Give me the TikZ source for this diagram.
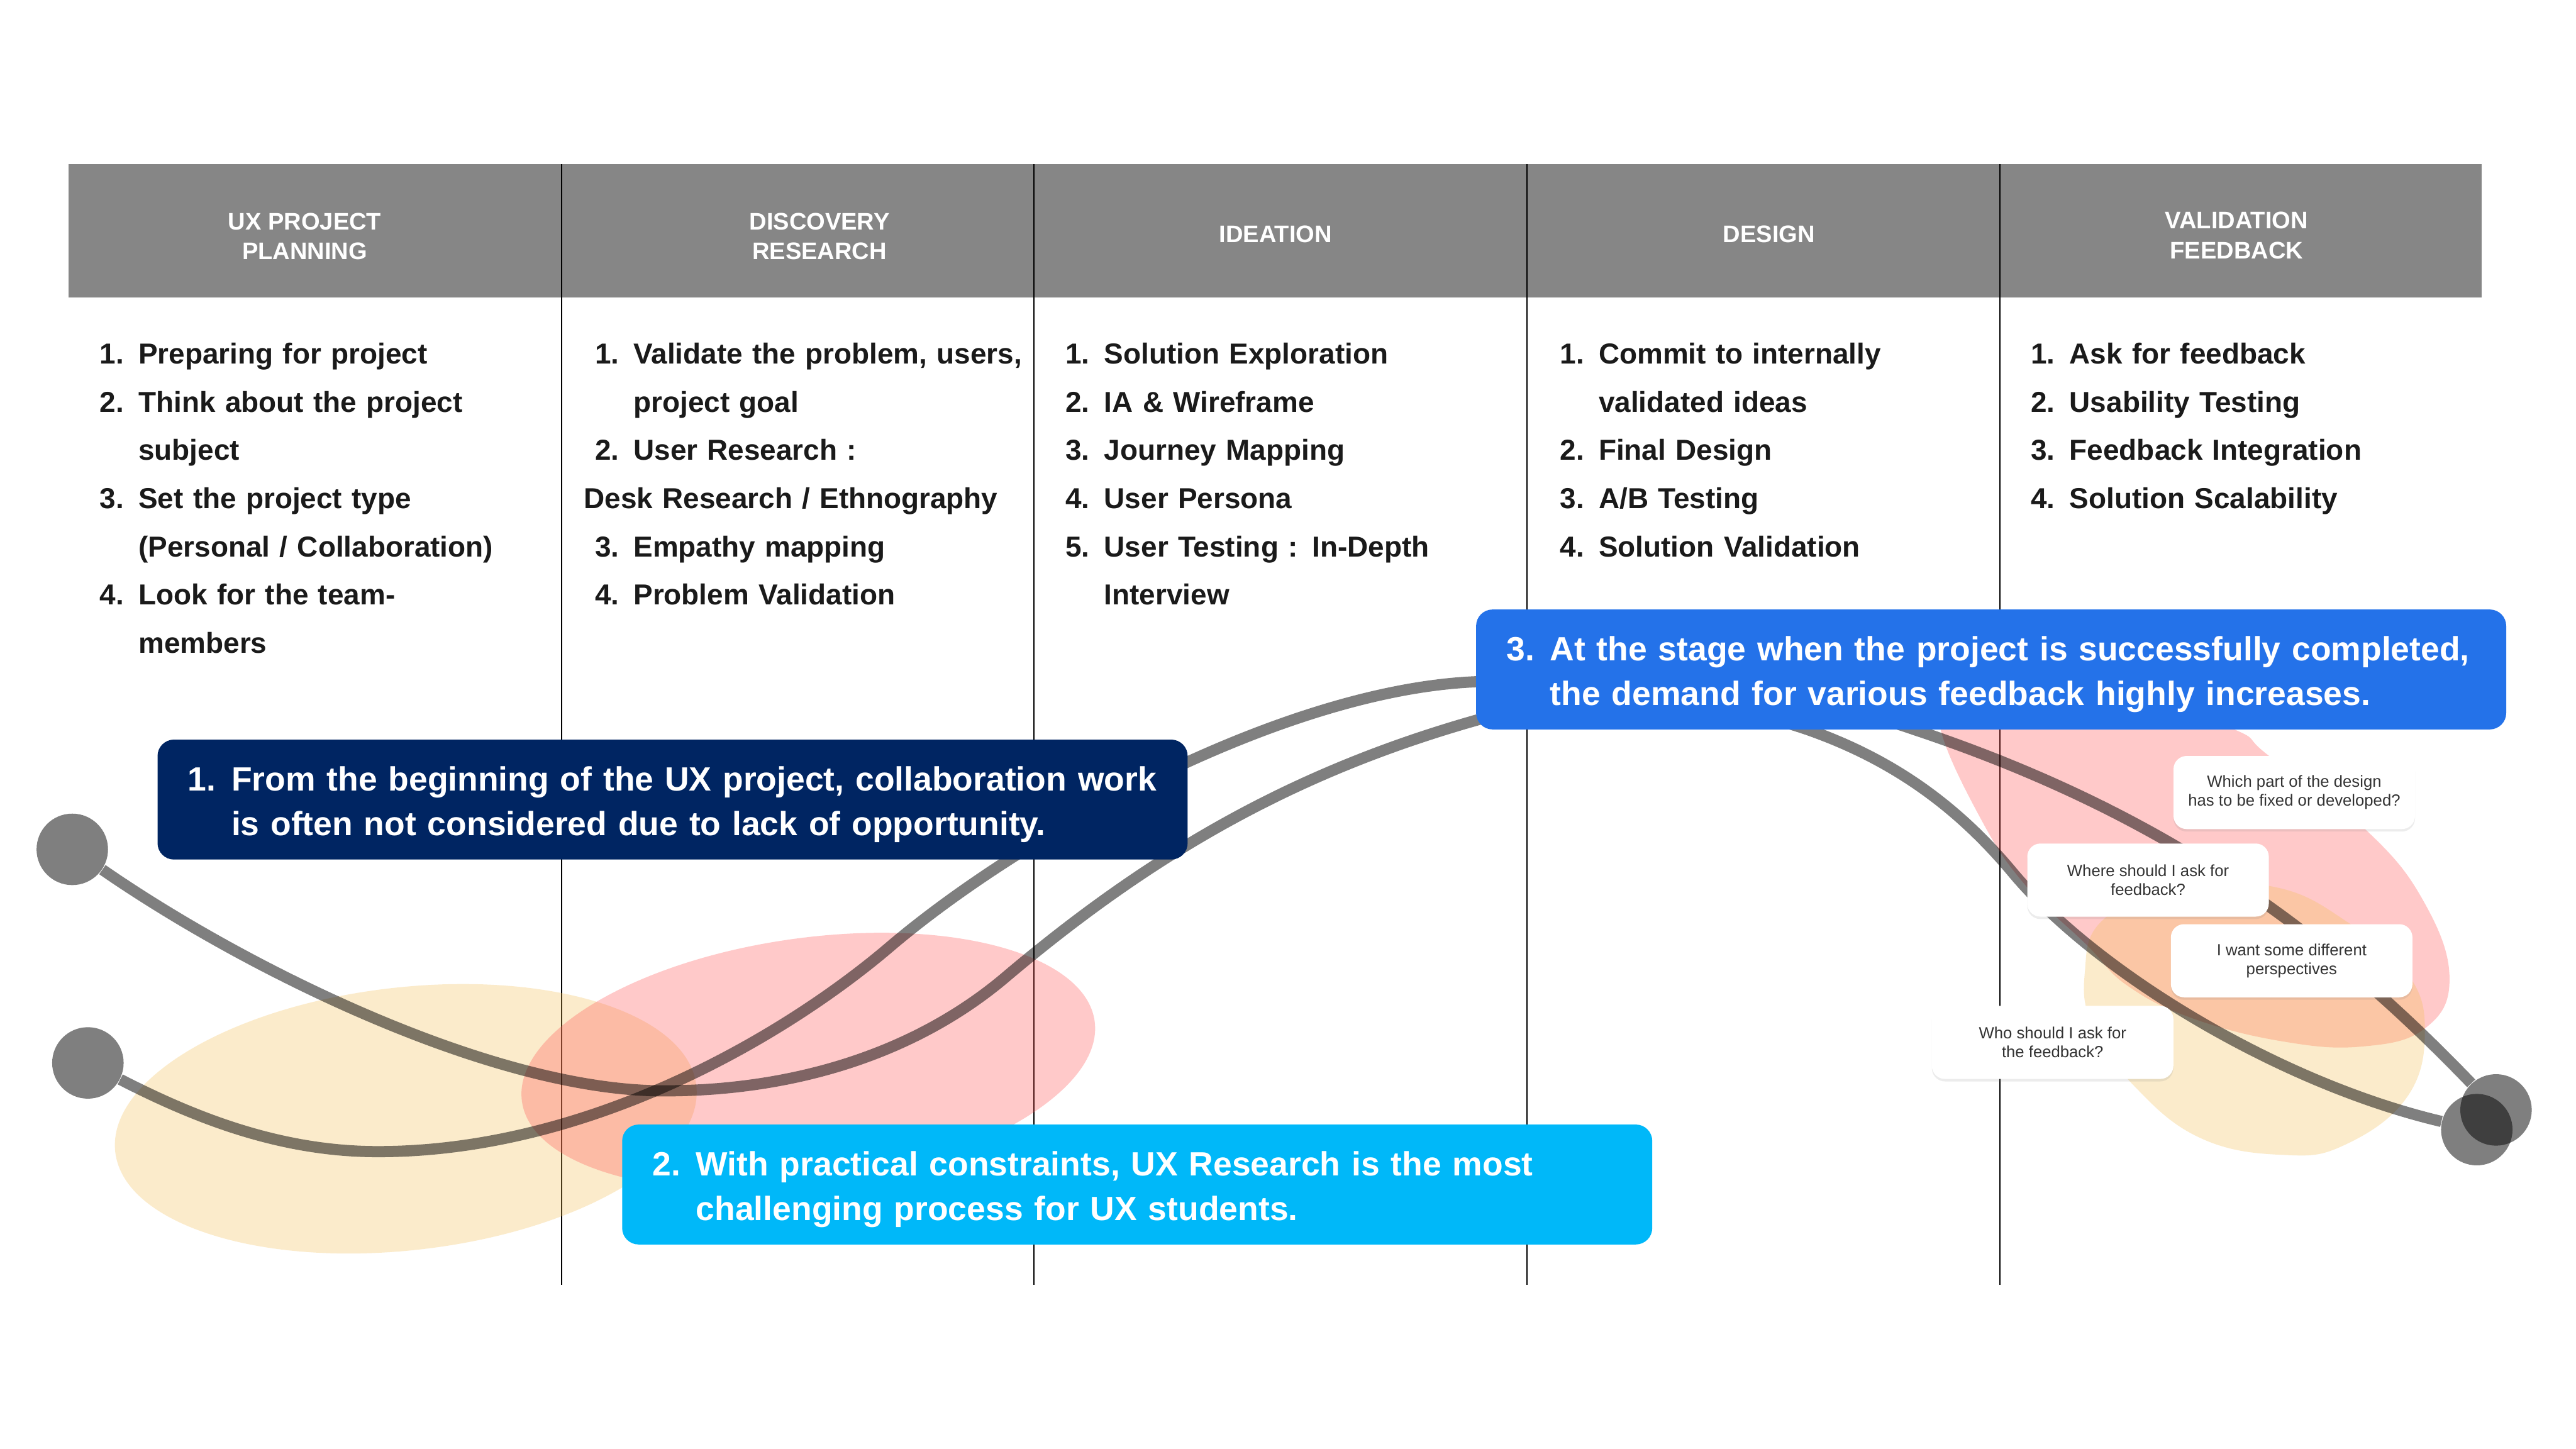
\documentclass[tikz,border=0pt]{standalone}
\usepackage{fontspec}
\setmainfont{Liberation Sans}
\usetikzlibrary{shadows}

\definecolor{headgray}{RGB}{134,134,134}
\definecolor{navy}{RGB}{0,37,98}
\definecolor{sky}{RGB}{0,184,249}
\definecolor{azure}{RGB}{36,114,233}
\definecolor{sand}{RGB}{245,192,85}
\definecolor{rose}{RGB}{255,78,78}
\definecolor{ink}{RGB}{26,26,26}

\newcommand{\itm}[1]{\makebox[4.7mm][l]{#1}}
\newcommand{\ind}{\hspace*{4.7mm}}
\newcommand{\firstln}[2]{\mbox{\rule{0pt}{4.2mm}\makebox[5.3mm][l]{#1}#2}}
\newcommand{\nextln}[1]{\mbox{\hspace*{5.3mm}#1}}

\begin{document}
\begin{tikzpicture}[x=0.2mm, y=-0.2mm,
  head/.style   ={font=\bfseries\fontsize{8.3}{10.4}\selectfont, text=white, align=center, inner sep=0pt},
  item/.style   ={font=\bfseries\fontsize{10}{16.7}\selectfont, text=ink, text width=60mm, align=left, inner sep=0pt, anchor=base west},
  divider/.style={draw=black, line width=0.5pt},
  ywash/.style  ={fill=sand, fill opacity=0.3},
  pwash/.style  ={fill=rose, fill opacity=0.3},
  route/.style  ={draw=black, draw opacity=0.5, line width=1.36mm},
  knob/.style   ={circle, fill=black, fill opacity=0.5, minimum size=8.7mm, inner sep=0pt},
  cbox/.style   ={rounded corners=2mm, text=white, font=\bfseries\fontsize{11.65}{15.4}\selectfont, text width=118mm, inner xsep=3.7mm, inner ysep=0pt, minimum height=14.6mm, align=left},
  qbox/.style   ={fill=white, rounded corners=1.6mm, minimum width=29.4mm, minimum height=8.9mm, inner sep=0pt, align=center, text=black!80, font=\fontsize{5.6}{6.6}\selectfont, drop shadow={shadow xshift=0mm, shadow yshift=-0.3mm, opacity=0.15}}]

  \useasboundingbox (0,0) rectangle (1568,882);
  \fill[white] (0,0) rectangle (1568,882);

  % ---------------- header band ----------------
  \fill[headgray] (41.7,100) rectangle (1510.5,181);

  % ---------------- column dividers ----------------
  \draw[divider] (341.8,100) -- (341.8,782);
  \draw[divider] (629.4,100) -- (629.4,782);
  \draw[divider] (929.5,100) -- (929.5,782);
  \draw[divider] (1217.3,100) -- (1217.3,782);

  % ---------------- stage titles ----------------
  \node[head] (hplan) at (185.5,143.9) {UX PROJECT\\PLANNING};
  \node[head] (hdisc) at (498.8,143.9) {DISCOVERY\\RESEARCH};
  \node[head] (hidea) at (776.4,142.6) {IDEATION};
  \node[head] (hdsgn) at (1076.8,142.6) {DESIGN};
  \node[head] (hvali) at (1361.4,143.4) {VALIDATION\\FEEDBACK};

  % ---------------- task lists ----------------
  \node[item] (lplan) at (60.5,221.5) {\itm{1.}Preparing for project\\
    \itm{2.}Think about the project\\ \ind subject\\
    \itm{3.}Set the project type\\ \ind (Personal / Collaboration)\\
    \itm{4.}Look for the team-\\ \ind members};
  \node[item] (ldisc) at (361.8,221.5) {\itm{1.}Validate the problem, users,\\ \ind project goal\\
    \itm{2.}User Research :\\ \hspace*{-1.35mm}Desk Research / Ethnography\\
    \itm{3.}Empathy mapping\\
    \itm{4.}Problem Validation};
  \node[item] (lidea) at (648.3,221.5) {\itm{1.}Solution Exploration\\
    \itm{2.}IA \& Wireframe\\
    \itm{3.}Journey Mapping\\
    \itm{4.}User Persona\\
    \itm{5.}User Testing : In-Depth\\ \ind Interview};
  \node[item] (ldsgn) at (949.3,221.5) {\itm{1.}Commit to internally\\ \ind validated ideas\\
    \itm{2.}Final Design\\
    \itm{3.}A/B Testing\\
    \itm{4.}Solution Validation};
  \node[item] (lvali) at (1235.9,221.5) {\itm{1.}Ask for feedback\\
    \itm{2.}Usability Testing\\
    \itm{3.}Feedback Integration\\
    \itm{4.}Solution Scalability};

  % ---------------- emotion washes ----------------
  \fill[ywash, rotate around={6.5:(247,681)}] (247,681) ellipse [x radius=178, y radius=80];
  \fill[pwash, rotate around={8:(492,646)}] (492,646) ellipse [x radius=176, y radius=75];
  \fill[pwash] plot[smooth cycle, tension=0.7] coordinates {(1181,443) (1188,420) (1225,408) (1300,425) (1360,444) (1381,460) (1441,506) (1476,550) (1491,596) (1476,626) (1438,637) (1390,634) (1335,620) (1295,600) (1270,575) (1233,539) (1206,499)};
  \fill[ywash] plot[smooth cycle, tension=0.7] coordinates {(1269,592) (1280,560) (1325,540) (1385,540) (1430,562) (1465,592) (1476,627) (1465,668) (1427,697) (1390,703) (1340,693) (1300,662) (1274,625)};

  % ---------------- journey curves ----------------
  \node[knob] (knobA) at (44,517) {};
  \node[knob] (knobB) at (53.5,647) {};
  \node[knob] (knobC) at (1507.6,687.6) {};
  \node[knob] (knobD) at (1519.3,675.6) {};
  \draw[route] (knobA.-34) .. controls (150,590) and (300,664) .. (404,664)
    .. controls (484,664) and (558,641) .. (613,594)
    .. controls (703,518) and (790,469) .. (900,438)
    .. controls (990,412) and (1090,418) .. (1165,444)
    .. controls (1315,494) and (1414,565.5) .. (knobD.133);
  \draw[route] (knobB.-27) .. controls (118,680) and (170,701) .. (230,701)
    .. controls (360,701) and (480,629) .. (542,576)
    .. controls (622,508) and (780,420) .. (898,415)
    .. controls (970,411) and (1040,424) .. (1100,444)
    .. controls (1150,461.5) and (1190,489) .. (1225,531)
    .. controls (1275,591) and (1386,659) .. (knobC.167);

  % ---------------- insight callouts ----------------
  \node[cbox, fill=navy] (note1) at (409.4,486.7) {\firstln{1.}{From the beginning of the UX project, collaboration work}\\\nextln{is often not considered due to lack of opportunity.}};
  \node[cbox, fill=sky] (note2) at (692.2,721) {\firstln{2.}{With practical constraints, UX Research is the most}\\\nextln{challenging process for UX students.}};
  \node[cbox, fill=azure] (note3) at (1212,407.5) {\firstln{3.}{At the stage when the project is successfully completed,}\\\nextln{the demand for various feedback highly increases.}};

  % ---------------- feedback questions ----------------
  \node[qbox] (askpart)  at (1396.5,482.4) {Which part of the design\\has to be fixed or developed?};
  \node[qbox] (askwhere) at (1307.5,535.7) {Where should I ask for\\feedback?};
  \node[qbox] (askdiff)  at (1394.9,584.8) {I want some different\\perspectives};
  \node[qbox] (askwho)   at (1249.4,634.5) {Who should I ask for\\the feedback?};
\end{tikzpicture}
\end{document}
